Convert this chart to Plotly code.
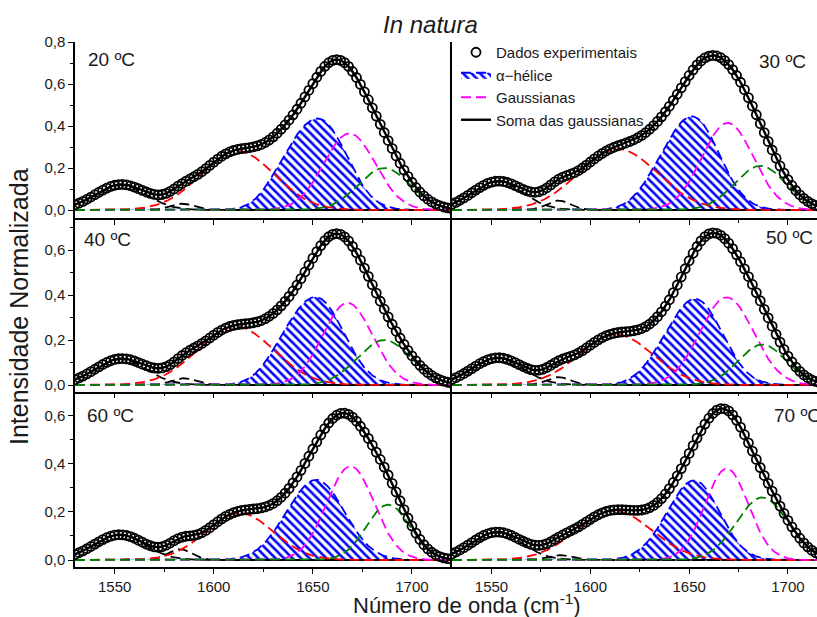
import numpy as np
import plotly.graph_objects as go

# ---------------- data ----------------
TEMPERATURE_LABELS = ["20 ºC", "30 ºC", "40 ºC", "50 ºC", "60 ºC", "70 ºC"]
X_TICKS = [1550, 1600, 1650, 1700]
Y_TICKS_TOP = [0.0, 0.2, 0.4, 0.6, 0.8]
Y_TICKS_LOWER = [0.0, 0.2, 0.4, 0.6]
WAVENUMBER_FIRST = 1530
WAVENUMBER_LAST = 1720
WAVENUMBER_STEP = 2          # spacing of the measured points (cm-1)

# fitted Gaussian bands, one entry per panel (20, 30, 40, 50, 60, 70 ºC)
# centre (cm-1), height, sigma (cm-1)
BLACK_CENTER = [1553, 1553, 1553, 1553, 1552.5, 1552.5]
BLACK_HEIGHT = [0.12, 0.135, 0.115, 0.12, 0.105, 0.115]
BLACK_SIGMA = [13, 13, 13, 13, 13, 13]
SHOULDER_CENTER = [1584, 1584, 1585, 1584, 1583, 1585]
SHOULDER_HEIGHT = [0.03, 0.045, 0.03, 0.035, 0.045, 0.02]
SHOULDER_SIGMA = [6, 6, 6, 6, 6, 6]
RED_CENTER = [1612, 1614, 1611, 1613, 1613, 1612]
RED_HEIGHT = [0.28, 0.29, 0.26, 0.225, 0.195, 0.205]
RED_SIGMA = [18.5, 20, 19, 18.5, 17, 19]
# alpha-helix area = main band + low-wavenumber wing
HELIX_MAIN_CENTER = [1654.5, 1652.5, 1653, 1654, 1652, 1653]
HELIX_MAIN_HEIGHT = [0.41, 0.43, 0.37, 0.37, 0.33, 0.325]
HELIX_MAIN_SIGMA = [13, 13, 13, 13, 14, 12.5]
HELIX_WING_CENTER = [1636, 1634, 1635, 1636, 1633, 1635]
HELIX_WING_HEIGHT = [0.12, 0.08, 0.09, 0.06, 0.02, 0.03]
HELIX_WING_SIGMA = [10, 10, 10, 10, 10, 10]
MAGENTA_CENTER = [1668.5, 1669.5, 1667.5, 1669, 1669, 1669]
MAGENTA_HEIGHT = [0.365, 0.415, 0.365, 0.39, 0.39, 0.38]
MAGENTA_SIGMA = [13, 13, 12.5, 13.5, 12, 11]
GREEN_CENTER = [1686, 1686, 1686, 1687, 1688, 1687]
GREEN_HEIGHT = [0.2, 0.21, 0.2, 0.18, 0.23, 0.26]
GREEN_SIGMA = [13, 13, 13.5, 12, 11, 13]

# ---------------- geometry ----------------
W, H = 817, 617
ML, MR, MT, MB = 75, 0, 42, 50
PW, PH = W - ML - MR, H - MT - MB


def fx(px):
    return (px - ML) / PW


def fy(py):
    return (H - MB - py) / PH


COL_DOM = [[0, fx(452)], [fx(452), 1]]
ROW_DOM = [[fy(218.3), 1], [fy(391.7), fy(218.3)], [0, fy(391.7)]]
X_RANGES = [[1530, 1720.2], [1530, 1714.7]]
Y_RANGES = [[-0.0395, 0.8005], [-0.0298, 0.741], [-0.029, 0.6998]]

FONT = "Liberation Sans, Arial, sans-serif"
DASH = "10px,5px"
TXT = "#1a1a1a"


def gauss(x, c, h, s):
    return h * np.exp(-((x - c) ** 2) / (2.0 * s * s))


x_data = np.arange(WAVENUMBER_FIRST, WAVENUMBER_LAST + 0.1, WAVENUMBER_STEP)
x_fine = np.arange(WAVENUMBER_FIRST, WAVENUMBER_LAST + 0.1, 0.5)

fig = go.Figure()
layout = {}

for i in range(6):
    r, c = i // 2, i % 2
    xn = "x" if i == 0 else f"x{i+1}"
    yn = "y" if i == 0 else f"y{i+1}"
    first = i == 0

    lines = [
        ("black", BLACK_CENTER, BLACK_HEIGHT, BLACK_SIGMA),
        ("black", SHOULDER_CENTER, SHOULDER_HEIGHT, SHOULDER_SIGMA),
        ("#FF0000", RED_CENTER, RED_HEIGHT, RED_SIGMA),
        ("#FF00FF", MAGENTA_CENTER, MAGENTA_HEIGHT, MAGENTA_SIGMA),
        ("#008000", GREEN_CENTER, GREEN_HEIGHT, GREEN_SIGMA),
    ]
    helix_bands = [
        (HELIX_MAIN_CENTER, HELIX_MAIN_HEIGHT, HELIX_MAIN_SIGMA),
        (HELIX_WING_CENTER, HELIX_WING_HEIGHT, HELIX_WING_SIGMA),
    ]

    def helix_at(x):
        return sum(gauss(x, cc[i], hh[i], ss[i]) for cc, hh, ss in helix_bands)

    def total_at(x):
        return helix_at(x) + sum(gauss(x, cc[i], hh[i], ss[i]) for _, cc, hh, ss in lines)

    # alpha-helix hatched area
    fig.add_trace(go.Scatter(
        x=x_fine, y=helix_at(x_fine), xaxis=xn, yaxis=yn, mode="lines",
        fill="tozeroy", fillcolor="rgba(0,0,0,0)",
        fillpattern=dict(shape="\\", fgcolor="#0000FF", bgcolor="rgba(255,255,255,0)",
                         size=6, solidity=0.42, fillmode="replace"),
        line=dict(color="#0000FF", width=1.8, dash=DASH),
        name="α−hélice", showlegend=first, legendrank=2, hoverinfo="skip"))

    for color, cc, hh, ss in lines:
        show = first and color == "#FF00FF"
        fig.add_trace(go.Scatter(
            x=x_fine, y=gauss(x_fine, cc[i], hh[i], ss[i]), xaxis=xn, yaxis=yn, mode="lines",
            line=dict(color=color, width=1.8, dash=DASH),
            name="Gaussianas", showlegend=show, legendrank=3, hoverinfo="skip"))

    fig.add_trace(go.Scatter(
        x=x_fine, y=total_at(x_fine), xaxis=xn, yaxis=yn, mode="lines",
        line=dict(color="black", width=2.4),
        name="Soma das gaussianas", showlegend=first, legendrank=4, hoverinfo="skip"))
    fig.add_trace(go.Scatter(
        x=x_data, y=total_at(x_data), xaxis=xn, yaxis=yn, mode="markers",
        marker=dict(symbol="circle-open", size=9, color="black", line=dict(width=1.8, color="black")),
        name="Dados experimentais", showlegend=first, legendrank=1, hoverinfo="skip"))

    xkey = "xaxis" if i == 0 else f"xaxis{i+1}"
    ykey = "yaxis" if i == 0 else f"yaxis{i+1}"
    layout[xkey] = dict(
        domain=COL_DOM[c], range=X_RANGES[c], anchor=yn,
        showline=True, linecolor="black", linewidth=1.5,
        ticks="outside", ticklen=5, tickwidth=1.2, tickcolor="black",
        tickmode="array", tickvals=X_TICKS,
        showticklabels=(r == 2),
        tickfont=dict(family=FONT, size=15, color=TXT),
        minor=dict(tickmode="linear", tick0=1525, dtick=25, ticks="outside", ticklen=3,
                   tickwidth=1.2, tickcolor="black"),
        showgrid=False, zeroline=False, fixedrange=True)
    layout[ykey] = dict(
        domain=ROW_DOM[r], range=Y_RANGES[r], anchor=xn,
        showline=True, linecolor="black", linewidth=1.5,
        ticks="outside" if c == 0 else "", ticklen=5, tickwidth=1.2, tickcolor="black",
        tickmode="array", tickvals=Y_TICKS_TOP if r == 0 else Y_TICKS_LOWER,
        tickformat=".1f", showticklabels=(c == 0),
        tickfont=dict(family=FONT, size=15, color=TXT),
        minor=dict(tickmode="linear", tick0=0.1, dtick=0.2, ticks="outside" if c == 0 else "",
                   ticklen=3, tickwidth=1.2, tickcolor="black"),
        showgrid=False, zeroline=False, fixedrange=True)

# top borders with inward ticks
for k, c in enumerate([0, 1]):
    base = "x" if c == 0 else "x2"
    yn = "y" if c == 0 else "y2"
    layout[f"xaxis{7+k}"] = dict(
        domain=COL_DOM[c], range=X_RANGES[c], overlaying=base, anchor=yn, side="top",
        showline=True, linecolor="black", linewidth=1.5,
        ticks="inside", ticklen=5, tickwidth=1.2, tickcolor="black",
        tickmode="array", tickvals=X_TICKS, showticklabels=False,
        minor=dict(tickmode="linear", tick0=1525, dtick=25, ticks="inside", ticklen=3,
                   tickwidth=1.2, tickcolor="black"),
        showgrid=False, zeroline=False, fixedrange=True)

annotations = []
label_pos = [(86, 60, "left"), (808, 61, "right"), (82, 240, "left"),
             (815, 237, "right"), (85, 415, "left"), (772, 415, "left")]
for i, (px, py, anc) in enumerate(label_pos):
    annotations.append(dict(text=TEMPERATURE_LABELS[i], x=fx(px), y=fy(py), xref="paper", yref="paper",
                            xanchor=anc, yanchor="middle", showarrow=False,
                            font=dict(family=FONT, size=19, color=TXT)))
annotations.append(dict(text="<i>In natura</i>", x=fx(430), y=fy(25), xref="paper", yref="paper",
                        xanchor="center", yanchor="middle", showarrow=False,
                        font=dict(family=FONT, size=24, color=TXT)))
annotations.append(dict(text="Intensidade Normalizada", x=fx(19), y=fy(307), xref="paper", yref="paper",
                        xanchor="center", yanchor="middle", showarrow=False, textangle=-90,
                        font=dict(family=FONT, size=25, color=TXT)))
annotations.append(dict(text="Número de onda (cm<sup>-1</sup>)", x=fx(467), y=fy(604), xref="paper",
                        yref="paper", xanchor="center", yanchor="middle", showarrow=False,
                        font=dict(family=FONT, size=22, color=TXT)))

fig.update_layout(
    width=W, height=H, margin=dict(l=ML, r=MR, t=MT, b=MB),
    paper_bgcolor="white", plot_bgcolor="white",
    separators=",.",
    font=dict(family=FONT, color=TXT),
    showlegend=True,
    legend=dict(x=fx(456), y=1 + 6 / PH, xanchor="left", yanchor="top",
                bgcolor="rgba(0,0,0,0)", borderwidth=0, tracegroupgap=0,
                itemwidth=30, font=dict(family=FONT, size=15, color=TXT)),
    annotations=annotations,
    **layout)

fig.write_html("out.html", config={"displayModeBar": False},
               post_script="document.body.style.margin='0';")
